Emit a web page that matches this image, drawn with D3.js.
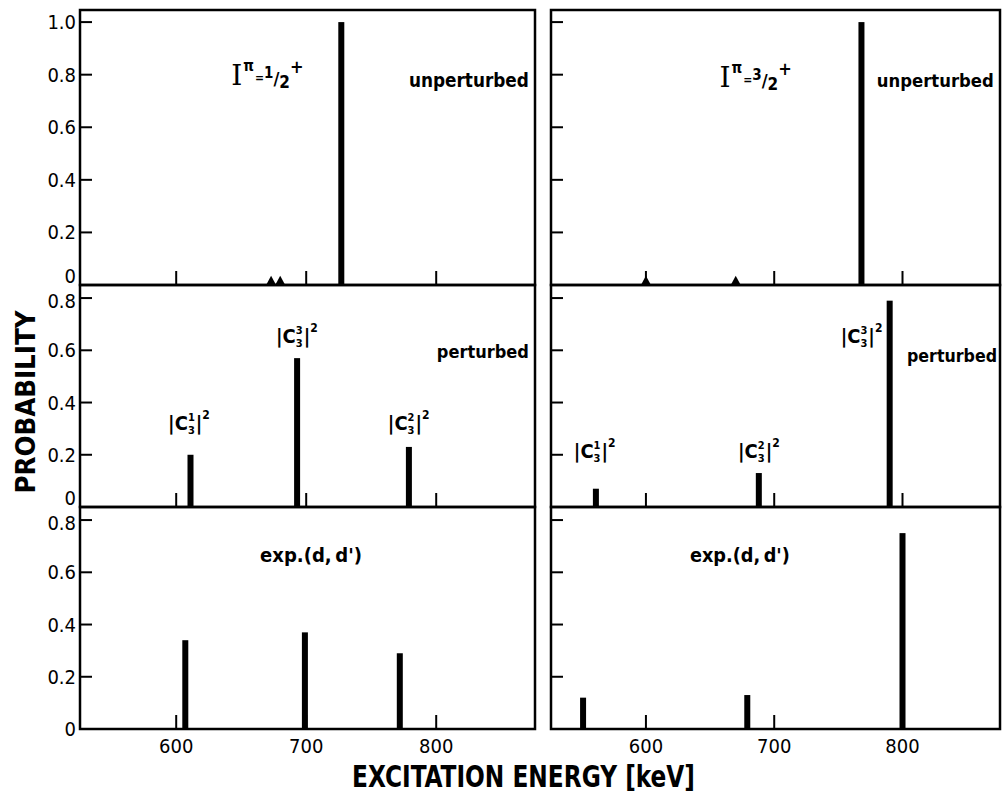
<!DOCTYPE html>
<html>
<head>
<meta charset="utf-8">
<script src="https://cdn.jsdelivr.net/npm/d3@7"></script>
<style>
  body { margin: 0; background: #fff; }
  text { fill: #000; }
</style>
</head>
<body>
<div id="chart"></div>
<script>
// ticks
var energyTicks = [600, 700, 800];
var probTicksTop = [0, 0.2, 0.4, 0.6, 0.8, 1.0];
var probTicksLow = [0, 0.2, 0.4, 0.6, 0.8];

// I = 1/2+ column (energies in keV, probabilities)
var halfUnpertE = [727];
var halfUnpertP = [1.0];
var halfSmallE = [673, 680];
var halfPertE = [611, 693, 779];
var halfPertP = [0.20, 0.57, 0.23];
var halfExpE = [607, 699, 772];
var halfExpP = [0.34, 0.37, 0.29];

// I = 3/2+ column
var threeUnpertE = [768];
var threeUnpertP = [1.0];
var threeSmallE = [600, 670];
var threePertE = [561, 688, 790];
var threePertP = [0.07, 0.13, 0.79];
var threeExpE = [551, 679, 800];
var threeExpP = [0.12, 0.13, 0.75];
var smallP = 0.035;

var W = 1002, H = 798;
var font = "'DejaVu Sans Condensed','DejaVu Sans',sans-serif";

var svg = d3.select("#chart").append("svg")
  .attr("width", W).attr("height", H)
  .style("font-family", font);

var cols = [
  { x0: 80, x1: 535, labels: true,
    rows: [
      { E: halfUnpertE, P: halfUnpertP, small: halfSmallE },
      { E: halfPertE, P: halfPertP, small: [] },
      { E: halfExpE, P: halfExpP, small: [] }
    ] },
  { x0: 551, x1: 1000, labels: false,
    rows: [
      { E: threeUnpertE, P: threeUnpertP, small: threeSmallE },
      { E: threePertE, P: threePertP, small: [] },
      { E: threeExpE, P: threeExpP, small: [] }
    ] }
];
var rowGeom = [
  { top: 10, base: 285, max: 1.046, ticks: probTicksTop, zeroUp: true },
  { top: 285, base: 507, max: 0.85, ticks: probTicksLow, zeroUp: true },
  { top: 507, base: 729, max: 0.85, ticks: probTicksLow, zeroUp: false }
];

var fmt = function(d) { return d === 0 ? "0" : d3.format(".1f")(d); };

cols.forEach(function(col) {
  col.x = d3.scaleLinear().domain([526, 876]).range([col.x0, col.x1]);
  col.ys = [];
  rowGeom.forEach(function(rg, ri) {
    var y = d3.scaleLinear().domain([0, rg.max]).range([rg.base, rg.top]);
    col.ys.push(y);
    var g = svg.append("g");
    var data = col.rows[ri];

    // inward y ticks
    g.selectAll("line.yt").data(rg.ticks).enter().append("line")
      .attr("x1", col.x0).attr("x2", col.x0 + 12)
      .attr("y1", function(d) { return y(d); })
      .attr("y2", function(d) { return y(d); })
      .attr("stroke", "#000").attr("stroke-width", 2);

    // small energy ticks on baseline
    g.selectAll("line.xt").data(energyTicks).enter().append("line")
      .attr("x1", function(d) { return col.x(d); })
      .attr("x2", function(d) { return col.x(d); })
      .attr("y1", rg.base).attr("y2", rg.base - 14)
      .attr("stroke", "#000").attr("stroke-width", 2);

    // bars
    g.selectAll("rect.bar").data(data.E).enter().append("rect")
      .attr("x", function(d) { return col.x(d) - 3; })
      .attr("y", function(d, i) { return y(data.P[i]); })
      .attr("width", 6)
      .attr("height", function(d, i) { return rg.base - y(data.P[i]); })
      .attr("fill", "#000");

    // tiny peaks
    g.selectAll("path.tri").data(data.small).enter().append("path")
      .attr("d", function(d) {
        var cx = col.x(d);
        return "M" + (cx - 5) + "," + rg.base + "L" + cx + "," + y(smallP) + "L" + (cx + 5) + "," + rg.base + "Z";
      })
      .attr("fill", "#000");

    if (col.labels) {
      g.selectAll("text.yl").data(rg.ticks).enter().append("text")
        .attr("x", col.x0 - 4)
        .attr("y", function(d) {
          if (d === 0 && rg.zeroUp) return y(d) - 2;
          if (ri > 0 && d === 0.8) return y(d) + 10;
          return y(d) + 7;
        })
        .attr("text-anchor", "end")
        .style("font-size", "20px")
        .text(fmt);
    }

    // panel frame
    g.append("rect")
      .attr("x", col.x0).attr("y", rg.top)
      .attr("width", col.x1 - col.x0).attr("height", rg.base - rg.top)
      .attr("fill", "none").attr("stroke", "#000").attr("stroke-width", 2.5);
  });

  // energy tick labels
  svg.selectAll(null).data(energyTicks).enter().append("text")
    .attr("x", function(d) { return col.x(d); })
    .attr("y", 753)
    .attr("text-anchor", "middle")
    .style("font-size", "20px")
    .text(function(d) { return d; });
});

// one text element made of tspans, laid out by measured widths
var measurer = svg.append("text").attr("visibility", "hidden");
function measure(p) {
  measurer.style("font-size", p.s + "px")
    .style("font-weight", p.w || "bold")
    .style("font-family", p.f || font)
    .text(p.t);
  return measurer.node().getComputedTextLength();
}
function pieces(x, y, list) {
  var t = svg.append("text");
  var cx = x, prevX = x, prevW = 0;
  list.forEach(function(p) {
    var w = measure(p);
    var px = (p.stack ? prevX : cx) + (p.dx || 0);
    t.append("tspan")
      .attr("x", px).attr("y", y + (p.dy || 0))
      .style("font-size", p.s + "px")
      .style("font-weight", p.w || "bold")
      .style("font-family", p.f || font)
      .text(p.t);
    if (p.stack) {
      cx = prevX + Math.max(prevW, w);
    } else {
      prevX = px; prevW = w;
      cx = px + w;
    }
  });
  return t;
}

function cLabel(col, row, e, p, sup) {
  pieces(col.x(e), col.ys[row](p), [
    { t: "|", s: 20, dx: 1 },
    { t: "C", s: 20 },
    { t: sup, s: 11, dy: -9 },
    { t: "3", s: 11, dy: 4, stack: true },
    { t: "|", s: 20, dx: 1 },
    { t: "2", s: 12, dy: -11 }
  ]);
}

function spinLabel(col, e, p, num) {
  pieces(col.x(e), col.ys[0](p), [
    { t: "I", s: 28, w: "normal", f: "'DejaVu Serif','Liberation Serif',serif", dx: 3 },
    { t: "\u03c0", s: 15, dy: -14, dx: 1 },
    { t: "=", s: 12, dy: -3, dx: 1 },
    { t: num, s: 15, dy: -7 },
    { t: "/", s: 18, dy: 0 },
    { t: "2", s: 17, dy: 3 },
    { t: "+", s: 18, dy: -12 }
  ]);
}

// plain annotation, font size chosen so the text spans the wanted width
function plain(col, row, e, p, txt, len) {
  var w = measure({ t: txt, s: 19 });
  svg.append("text")
    .attr("x", col.x(e)).attr("y", col.ys[row](p))
    .style("font-size", (19 * len / w).toFixed(2) + "px")
    .style("font-weight", "bold")
    .text(txt);
}

var L = cols[0], R = cols[1];
spinLabel(L, 640, 0.76, "1");
spinLabel(R, 655, 0.753, "3");
plain(L, 0, 779, 0.753, "unperturbed", 120);
plain(R, 0, 780, 0.753, "unperturbed", 117);
plain(L, 1, 800.5, 0.57, "perturbed", 92);
plain(R, 1, 803.5, 0.555, "perturbed", 90);
plain(L, 2, 664.5, 0.64, "exp.(d,\u2009d')", 102);
plain(R, 2, 634.3, 0.64, "exp.(d,\u2009d')", 100);

cLabel(L, 1, 593, 0.295, "1");
cLabel(L, 1, 676, 0.628, "3");
cLabel(L, 1, 762, 0.295, "2");
cLabel(R, 1, 543, 0.188, "1");
cLabel(R, 1, 671, 0.188, "2");
cLabel(R, 1, 751, 0.628, "3");

// axis titles
svg.append("text")
  .attr("transform", "translate(35,402) rotate(-90)")
  .attr("text-anchor", "middle")
  .attr("textLength", 183).attr("lengthAdjust", "spacingAndGlyphs")
  .style("font-size", "27px").style("font-weight", "bold")
  .text("PROBABILITY");

svg.append("text")
  .attr("x", 352).attr("y", 787)
  .attr("textLength", 343).attr("lengthAdjust", "spacingAndGlyphs")
  .style("font-size", "30px").style("font-weight", "bold")
  .text("EXCITATION  ENERGY [keV]");
</script>
</body>
</html>
